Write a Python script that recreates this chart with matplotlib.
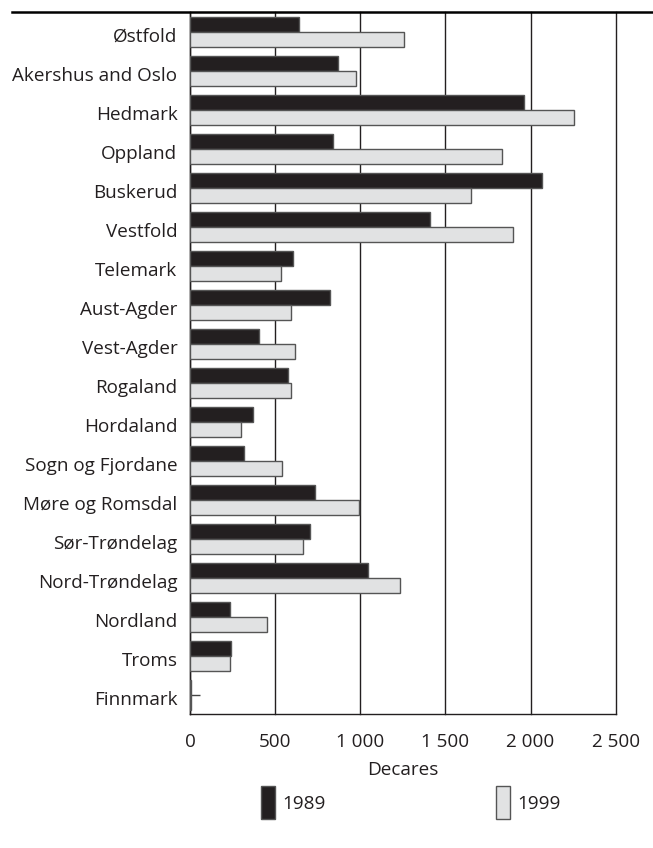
import matplotlib
matplotlib.use("Agg")
import matplotlib.pyplot as plt
import matplotlib.transforms as mtransforms
from matplotlib.patches import Rectangle
from matplotlib.lines import Line2D
from matplotlib.ticker import FuncFormatter
import numpy as np

# Counties (top to bottom) and decares per year
counties = [
    "Østfold", "Akershus and Oslo", "Hedmark", "Oppland", "Buskerud",
    "Vestfold", "Telemark", "Aust-Agder", "Vest-Agder", "Rogaland",
    "Hordaland", "Sogn og Fjordane", "Møre og Romsdal", "Sør-Trøndelag",
    "Nord-Trøndelag", "Nordland", "Troms", "Finnmark",
]
val_1989 = [638, 868, 1959, 840, 2067, 1411, 603, 825, 404, 576,
            370, 315, 735, 707, 1044, 233, 239, 5]
val_1999 = [1258, 972, 2257, 1834, 1650, 1898, 537, 594, 617, 592,
            302, 541, 995, 666, 1232, 454, 235, 5]
year_labels = ["1989", "1999"]
x_ticks = [0, 500, 1000, 1500, 2000, 2500]

DARK = "#231f20"
LIGHT = "#e1e2e3"
EDGE = "#555555"
FS = 13.6

plt.rcParams['font.family'] = ['Open Sans', 'DejaVu Sans']

fig = plt.figure(figsize=(6.53, 8.48), dpi=100)
ax = fig.add_axes([190 / 653, 1 - 714 / 848, (615.7 - 190) / 653, (714 - 12.5) / 848])

y = np.arange(len(counties))
h = 0.385
ax.barh(y - h / 2, val_1989, height=h, color=DARK, edgecolor=EDGE, linewidth=1, zorder=3)
ax.barh(y + h / 2, val_1999, height=h, color=LIGHT, edgecolor=EDGE, linewidth=1, zorder=3)

ax.set_xlim(0, 2500)
ax.set_ylim(len(counties) - 0.5, -0.5)
ax.set_xticks(x_ticks)
ax.xaxis.set_major_formatter(FuncFormatter(lambda v, p: f"{int(v):,}".replace(",", " ")))
ax.set_yticks(y)
ax.set_yticklabels(counties)

ax.grid(axis="x", color=DARK, linewidth=1, zorder=0)
ax.set_axisbelow(True)
for gl in ax.get_xgridlines():
    gl.set_clip_on(False)
for s in ["top", "right"]:
    ax.spines[s].set_visible(False)
for s in ["left", "bottom"]:
    ax.spines[s].set_color(DARK)
    ax.spines[s].set_linewidth(1)

ax.tick_params(axis="y", direction="in", length=7, width=1, color="#444444",
               labelsize=FS, labelcolor=DARK, pad=9)
ax.tick_params(axis="x", length=0, labelsize=FS, labelcolor=DARK, pad=14)
ax.set_xlabel("Decares", fontsize=FS, color=DARK, labelpad=7)

# county names sit a little below the tick in the original
shift = mtransforms.ScaledTranslation(0, -3 / 100, fig.dpi_scale_trans)
for lbl in ax.get_yticklabels():
    lbl.set_transform(lbl.get_transform() + shift)

# thick rule across the top
fig.add_artist(Line2D([12 / 653, 1], [1 - 12 / 848] * 2, color="black", linewidth=1.8))

# legend drawn by hand
for x0, col, lab in [(261, DARK, year_labels[0]), (496, LIGHT, year_labels[1])]:
    fig.add_artist(Rectangle((x0 / 653, 1 - 819 / 848), 14 / 653, 33 / 848,
                             facecolor=col, edgecolor=EDGE, linewidth=1))
    fig.text((x0 + 21) / 653, 1 - 804 / 848, lab, fontsize=FS, color=DARK, va="center")

fig.savefig("out.png", dpi=100)
